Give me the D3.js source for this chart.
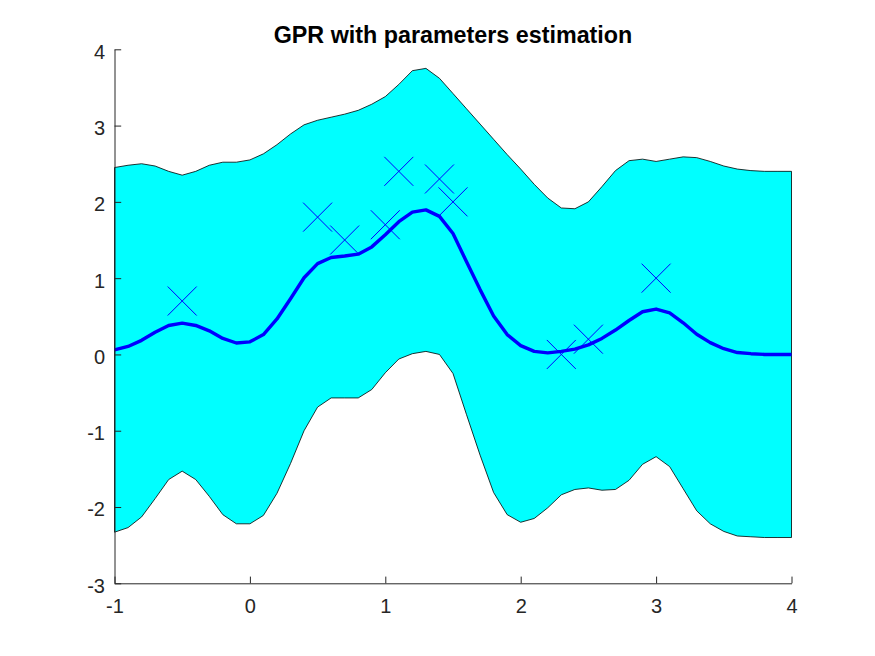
<!DOCTYPE html>
<html>
<head>
<meta charset="utf-8">
<script src="https://cdn.jsdelivr.net/npm/d3@7/dist/d3.min.js"></script>
<style>
  html, body { margin: 0; padding: 0; background: #ffffff; }
  svg { display: block; }
  text { font-family: "Liberation Sans", Arial, Helvetica, sans-serif; }
</style>
</head>
<body>
<svg id="chart" width="875" height="656"></svg>
<script>
// ---- data ----
const titleText = "GPR with parameters estimation";
const xGrid = [-1.0,-0.9,-0.8,-0.7,-0.6,-0.5,-0.4,-0.3,-0.2,-0.1,0.0,0.1,0.2,0.3,0.4,0.5,0.6,0.7,0.8,0.9,1.0,1.1,1.2,1.3,1.4,1.5,1.6,1.7,1.8,1.9,2.0,2.1,2.2,2.3,2.4,2.5,2.6,2.7,2.8,2.9,3.0,3.1,3.2,3.3,3.4,3.5,3.6,3.7,3.8,3.9,4.0];
const upperBound = [2.45,2.48,2.50,2.47,2.40,2.35,2.40,2.48,2.52,2.52,2.55,2.63,2.75,2.89,3.01,3.07,3.11,3.15,3.20,3.28,3.38,3.54,3.72,3.75,3.62,3.42,3.22,3.02,2.82,2.62,2.43,2.23,2.05,1.92,1.91,2.00,2.20,2.41,2.54,2.56,2.53,2.56,2.59,2.58,2.53,2.47,2.43,2.41,2.40,2.40,2.40];
const lowerBound = [-2.33,-2.27,-2.13,-1.89,-1.64,-1.53,-1.64,-1.86,-2.10,-2.22,-2.22,-2.11,-1.82,-1.43,-1.00,-0.69,-0.57,-0.57,-0.57,-0.46,-0.24,-0.06,0.01,0.04,0.00,-0.25,-0.79,-1.32,-1.81,-2.10,-2.20,-2.15,-2.01,-1.84,-1.77,-1.75,-1.78,-1.77,-1.65,-1.44,-1.34,-1.47,-1.76,-2.05,-2.22,-2.32,-2.38,-2.39,-2.40,-2.40,-2.40];
const meanPred = [0.06,0.105,0.185,0.29,0.38,0.41,0.38,0.31,0.21,0.15,0.165,0.26,0.465,0.73,1.005,1.19,1.27,1.29,1.315,1.41,1.57,1.74,1.865,1.895,1.81,1.585,1.215,0.85,0.505,0.26,0.115,0.04,0.02,0.04,0.07,0.125,0.21,0.32,0.445,0.56,0.595,0.545,0.415,0.265,0.155,0.075,0.025,0.01,0.0,0.0,0.0];
const obsX = [-0.5,0.5,0.7,1.0,1.1,1.4,1.5,2.3,2.5,3.0];
const obsY = [0.70,1.80,1.50,1.70,2.40,2.30,2.00,0.00,0.20,1.00];
const xTicks = [-1,0,1,2,3,4];
const yTicks = [-3,-2,-1,0,1,2,3,4];

// ---- layout ----
const svg = d3.select("#chart");
const plotL = 114.5, plotR = 791.5, plotT = 49.3, plotB = 583.3;
const x = d3.scaleLinear().domain([-1, 4]).range([plotL, plotR]);
const y = d3.scaleLinear().domain([-3, 4]).range([plotB, plotT]);
const axisColor = "#262626";
const fmt = d => String(d); // plain hyphen-minus like the reference

const pts = xGrid.map((v, i) => ({x: v, lo: lowerBound[i], hi: upperBound[i], m: meanPred[i]}));

// band polygon
const polyPts = pts.map(d => [x(d.x), y(d.hi)]).concat(pts.slice().reverse().map(d => [x(d.x), y(d.lo)]));
svg.append("path")
  .attr("d", d3.line()(polyPts) + "Z")
  .attr("fill", "#00ffff")
  .attr("stroke", "#000000")
  .attr("stroke-width", 0.8)
  .attr("stroke-linejoin", "round");

// mean line
svg.append("path")
  .datum(pts)
  .attr("d", d3.line().x(d => x(d.x)).y(d => y(d.m)))
  .attr("fill", "none")
  .attr("stroke", "#0000ff")
  .attr("stroke-width", 3.4)
  .attr("stroke-linejoin", "round");

// markers
const ms = 14.5;
const mg = svg.append("g");
obsX.forEach((ox, i) => {
  const cx = x(ox), cy = y(obsY[i]);
  mg.append("path")
    .attr("d", `M${cx-ms},${cy-ms}L${cx+ms},${cy+ms}M${cx-ms},${cy+ms}L${cx+ms},${cy-ms}`)
    .attr("stroke", "#0000ff")
    .attr("stroke-width", 1)
    .attr("fill", "none");
});

// axes
const xAxis = d3.axisBottom(x).tickValues(xTicks).tickFormat(fmt).tickSizeInner(-6.7).tickSizeOuter(0);
const yAxis = d3.axisLeft(y).tickValues(yTicks).tickFormat(fmt).tickSizeInner(-6.7).tickSizeOuter(0);

const gx = svg.append("g").attr("transform", `translate(0,${plotB})`).call(xAxis);
const gy = svg.append("g").attr("transform", `translate(${plotL},0)`).call(yAxis);
[gx, gy].forEach(g => {
  g.select(".domain").attr("stroke", axisColor).attr("stroke-width", 1);
  g.selectAll(".tick line").attr("stroke", axisColor).attr("stroke-width", 1);
  g.selectAll(".tick text").attr("fill", axisColor).style("font-size", "20px")
    .style("font-family", '"Liberation Sans", Arial, Helvetica, sans-serif');
});
gx.selectAll(".tick text").attr("y", 29.6).attr("dy", 0);
gy.selectAll(".tick text").attr("x", -9.5).attr("y", 8.9).attr("dy", 0);

// title
svg.append("text")
  .attr("x", (plotL + plotR) / 2)
  .attr("y", 43.3)
  .attr("text-anchor", "middle")
  .attr("fill", "#000000")
  .style("font-size", "23.3px")
  .style("font-weight", "bold")
  .text(titleText);
</script>
</body>
</html>
